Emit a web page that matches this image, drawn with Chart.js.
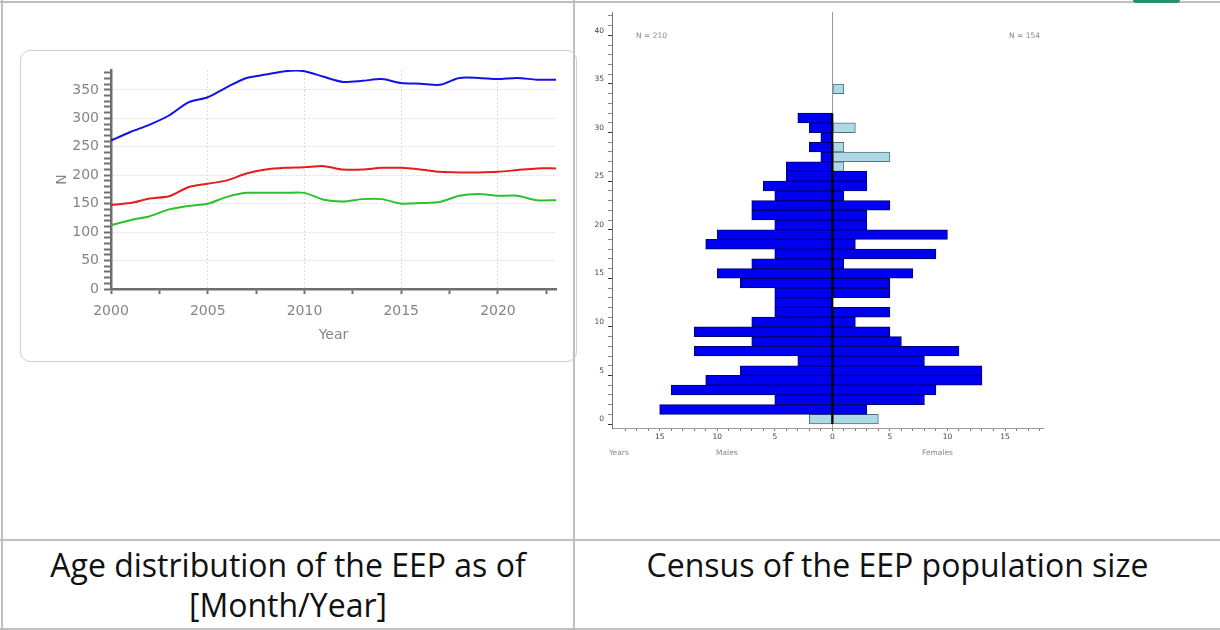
<!DOCTYPE html>
<html>
<head>
<meta charset="utf-8">
<script src="https://cdn.jsdelivr.net/npm/chart.js@4.4.1/dist/chart.umd.min.js"></script>
<style>
  html, body { margin: 0; padding: 0; background: #fff; }
  body { width: 1220px; height: 630px; position: relative; overflow: hidden; font-family: "Open Sans", sans-serif; }
  .ln { position: absolute; background: #bfbfbf; }
  .box { position: absolute; left: 20px; top: 50px; width: 555px; height: 310px; border: 1.5px solid #cfcfcf; border-radius: 10px; }
  .cap { position: absolute; top: 545px; text-align: center; font-size: 32px; line-height: 40px; color: #111; white-space: nowrap; }
  .small { position: absolute; font-family: "DejaVu Sans", sans-serif; font-size: 7.5px; color: #888; white-space: nowrap; }
  canvas { position: absolute; }
</style>
</head>
<body>
<!-- table lines -->
<div class="ln" style="left:0;top:1px;width:1220px;height:2px;"></div>
<div class="ln" style="left:1px;top:0;width:2px;height:630px;"></div>
<div class="ln" style="left:573px;top:0;width:2px;height:630px;"></div>
<div class="ln" style="left:0;top:539px;width:1220px;height:2px;"></div>
<div class="ln" style="left:0;top:628px;width:1220px;height:2px;"></div>
<div style="position:absolute;left:1133px;top:0;width:47px;height:3px;background:#2a8f70;border-radius:0 0 6px 6px;"></div>

<div class="box"></div>
<canvas id="census" width="556" height="312" style="left:20px;top:50px;width:556px;height:312px;"></canvas>
<canvas id="pyramid" width="480" height="470" style="left:580px;top:0px;width:480px;height:470px;"></canvas>

<div class="small" style="left:636px;top:31px;">N = 210</div>
<div class="small" style="left:1009px;top:31px;">N = 154</div>
<div class="small" style="left:609px;top:448px;">Years</div>
<div class="small" style="left:716px;top:448px;">Males</div>
<div class="small" style="left:922px;top:448px;">Females</div>

<div class="cap" style="left:3px;width:570px;">Age distribution of the EEP as of<br>[Month/Year]</div>
<div class="cap" style="left:575px;width:645px;">Census of the EEP population size</div>

<script>
// ---- Census data (left chart) ----
const years = [2000,2001,2002,2003,2004,2005,2006,2007,2008,2009,2010,2011,2012,2013,2014,2015,2016,2017,2018,2019,2020,2021,2022,2023];
const totalN  = [261,276,289,305,328,337,355,371,377,383,383,373,364,366,369,362,361,359,371,371,369,371,368,368];
const malesN  = [148,151,159,163,179,185,191,203,210,213,214,216,210,210,213,213,210,206,205,205,206,209,212,212];
const femalesN= [112,121,128,140,146,150,162,169,169,169,169,157,154,158,158,150,151,153,164,167,164,164,156,156];

// ---- Age pyramid data (right chart), index = age in years ----
const ages = [0,1,2,3,4,5,6,7,8,9,10,11,12,13,14,15,16,17,18,19,20,21,22,23,24,25,26,27,28,29,30,31,32,33,34];
const malesDark   = [0,15,5,14,11,8,3,12,7,12,7,5,5,5,8,10,7,5,11,10,5,7,7,5,6,4,4,1,2,1,2,3,0,0,0];
const malesLight  = [2,0,0,0,0,0,0,0,0,0,0,0,0,0,0,0,0,0,0,0,0,0,0,0,0,0,0,0,0,0,0,0,0,0,0];
const femalesDark = [0,3,8,9,13,13,8,11,6,5,2,5,0,5,5,7,1,9,2,10,3,3,5,1,3,3,0,0,0,0,0,0,0,0,0];
const femalesLight= [4,0,0,0,0,0,0,0,0,0,0,0,0,0,0,0,0,0,0,0,0,0,0,0,0,0,1,5,1,0,2,0,0,0,1];
const pyramidXTicks = [-15,-10,-5,0,5,10,15];

// ---------- left chart ----------
const gridGray = '#dcdcdc';
const axisGray = '#6e6e6e';
const tickFont = { family: 'DejaVu Sans', size: 14 };

new Chart(document.getElementById('census'), {
  type: 'line',
  data: {
    datasets: [
      { data: years.map((y,i)=>({x:y, y:totalN[i]})), borderColor: '#1212e6', borderWidth: 2, pointRadius: 0, tension: 0.25 },
      { data: years.map((y,i)=>({x:y, y:malesN[i]})), borderColor: '#e61c1c', borderWidth: 2, pointRadius: 0, tension: 0.25 },
      { data: years.map((y,i)=>({x:y, y:femalesN[i]})), borderColor: '#2ec12e', borderWidth: 2, pointRadius: 0, tension: 0.25 }
    ]
  },
  options: {
    responsive: false, animation: false,
    layout: { padding: { left: 0, right: 20, top: 20, bottom: 0 } },
    plugins: { legend: { display: false }, tooltip: { enabled: false } },
    scales: {
      x: {
        type: 'linear', min: years[0], max: years[years.length-1],
        afterFit: a => { a.height = 73; },
        afterBuildTicks: a => { const t=[]; for (let v=years[0]; v<=years[years.length-1]; v+=2.5) t.push({value:v}); a.ticks = t; },
        ticks: { font: tickFont, color: '#858585', padding: 9, maxRotation: 0, autoSkip: false,
                 callback: v => (v % 5 === 0 ? String(v) : '') },
        grid: { color: c => (c.tick && c.tick.value % 5 === 0 && c.tick.value !== years[0]) ? gridGray : 'rgba(0,0,0,0)',
                tickColor: axisGray, tickLength: 5, tickWidth: 2 },
        border: { color: axisGray, width: 2.5, dash: [2,2] },
        title: { display: true, text: 'Year', font: tickFont, color: '#858585', padding: { top: 0, bottom: 18 } }
      },
      y: {
        min: 0, max: 385,
        afterFit: a => { a.width = 91; },
        afterBuildTicks: a => { const t=[]; for (let v=0; v<=380; v+=10) t.push({value:v}); a.ticks = t; },
        ticks: { font: tickFont, color: '#858585', padding: 5, autoSkip: false,
                 callback: v => (v % 50 === 0 ? String(v) : '') },
        grid: { color: c => (c.tick && c.tick.value % 50 === 0 && c.tick.value !== 0) ? gridGray : 'rgba(0,0,0,0)',
                tickColor: axisGray, tickLength: 7, tickWidth: 2 },
        border: { color: axisGray, width: 2.5, dash: [2,2] },
        title: { display: true, text: 'N', font: tickFont, color: '#858585', padding: { top: 34, bottom: 0 } }
      }
    }
  }
});

// ---------- right chart ----------
const nz = v => (v ? v : null);
const darkBlue = '#0000f0', darkEdge = '#00006e';
const lightBlue = '#add8e6', lightEdge = '#56737a';
const centerLine = {
  id: 'centerLine',
  afterDatasetsDraw(chart) {
    const {ctx, scales: {x, y}} = chart;
    let top = 0;
    ages.forEach((a,i) => { if (malesDark[i] || femalesDark[i]) top = a; });
    const px = x.getPixelForValue(0);
    ctx.save();
    ctx.strokeStyle = '#000';
    ctx.lineWidth = 2;
    ctx.beginPath();
    ctx.moveTo(px, y.getPixelForValue(top + 0.5));
    ctx.lineTo(px, y.getPixelForValue(-0.5));
    ctx.stroke();
    ctx.restore();
  }
};
const barCommon = { borderWidth: 1, borderSkipped: false, barPercentage: 1, categoryPercentage: 1 };
new Chart(document.getElementById('pyramid'), {
  type: 'bar',
  data: {
    datasets: [
      Object.assign({ data: ages.map((a,i)=>({y:a, x: malesDark[i] ? -malesDark[i] : null})), backgroundColor: darkBlue, borderColor: darkEdge }, barCommon),
      Object.assign({ data: ages.map((a,i)=>({y:a, x: nz(femalesDark[i])})), backgroundColor: darkBlue, borderColor: darkEdge }, barCommon),
      Object.assign({ data: ages.map((a,i)=>({y:a, x: malesLight[i] ? -malesLight[i] : null})), backgroundColor: lightBlue, borderColor: lightEdge }, barCommon),
      Object.assign({ data: ages.map((a,i)=>({y:a, x: nz(femalesLight[i])})), backgroundColor: lightBlue, borderColor: lightEdge }, barCommon)
    ]
  },
  options: {
    indexAxis: 'y', responsive: false, animation: false,
    layout: { padding: { left: 0, right: 17, top: 12, bottom: 0 } },
    plugins: { legend: { display: false }, tooltip: { enabled: false } },
    scales: {
      x: {
        type: 'linear', stacked: true, min: -19.14, max: 18.3,
        afterFit: a => { a.height = 42; },
        afterBuildTicks: a => { const t=[]; for (let v=-18; v<=18; v++) t.push({value:v}); a.ticks = t; },
        ticks: { font: { family: 'DejaVu Sans', size: 7.5 }, color: '#444', padding: 2, maxRotation: 0, autoSkip: false,
                 callback: v => (pyramidXTicks.includes(v) ? String(Math.abs(v)) : '') },
        grid: { color: c => (c.tick && c.tick.value === 0) ? '#9a9a9a' : 'rgba(0,0,0,0)',
                tickColor: '#777', tickLength: 3, tickWidth: 1 },
        border: { color: '#9a9a9a', width: 1 }
      },
      y: {
        type: 'linear', stacked: true, min: -0.4, max: 41.4,
        afterFit: a => { a.width = 32; },
        afterBuildTicks: a => { const t=[]; for (let v=0; v<=41; v++) t.push({value:v}); a.ticks = t; },
        ticks: { font: { family: 'DejaVu Sans', size: 7.5 }, color: '#444', padding: 4, autoSkip: false,
                 callback: v => (v % 5 === 0 ? String(v) : '') },
        grid: { drawOnChartArea: false, tickColor: c => (c.tick && c.tick.value % 5 === 0) ? '#333' : '#888', tickLength: 4, tickWidth: 1 },
        border: { color: '#777', width: 1 }
      }
    }
  },
  plugins: [centerLine]
});
</script>
</body>
</html>
